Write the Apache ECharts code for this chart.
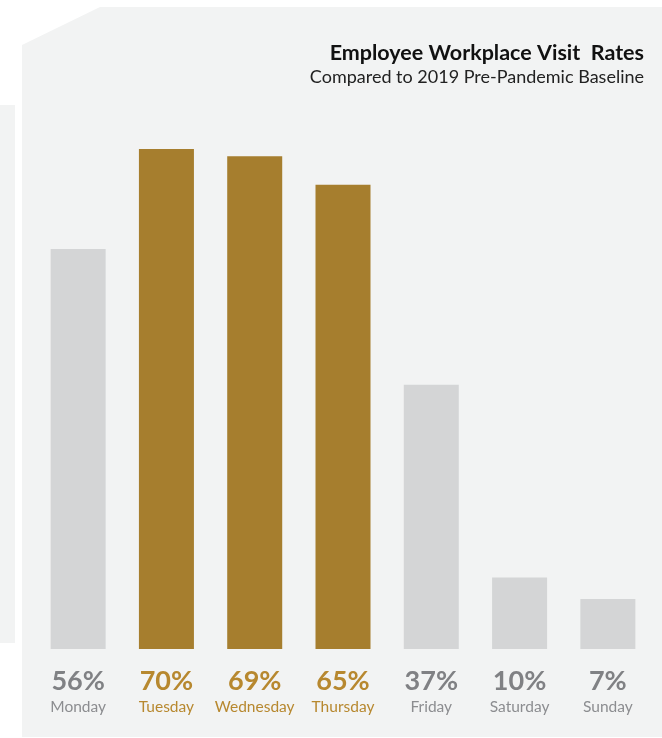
<!DOCTYPE html>
<html lang="en">
	<head>
		<meta charset="utf-8" />
		<title>Employee Workplace Visit Rates</title>
		<style>
			html, body { margin: 0; padding: 0; background: #fff; }
			#chart { width: 662px; height: 738px; }
		</style>
	</head>
	<body>
		<div id="chart"></div>
		<script src="https://cdn.jsdelivr.net/npm/echarts@6/dist/echarts.min.js"></script>
		<script type="text/javascript">
			const days = ['Monday', 'Tuesday', 'Wednesday', 'Thursday', 'Friday', 'Saturday', 'Sunday'];
			const rates = [56, 70, 69, 65, 37, 10, 7];
			// midweek days are highlighted
			const highlight = [false, true, true, true, false, false, false];

			const gold = '#a67e2e';
			const goldText = '#b7882f';
			const grey = '#d4d5d6';
			const greyText = '#808184';
			const panel = '#f2f3f3';

			const chart = echarts.init(document.getElementById('chart'));
			chart.setOption({
				backgroundColor: '#fff',
				textStyle: { fontFamily: 'Lato' },
				graphic: [
					{
						type: 'rect', silent: true, z: -10,
						shape: { x: 0, y: 105, width: 15, height: 538 },
						style: { fill: panel }
					},
					{
						type: 'polygon', silent: true, z: -10,
						shape: { points: [[22, 45], [100, 7], [662, 7], [662, 737], [22, 737]] },
						style: { fill: panel }
					}
				],
				title: {
					text: 'Employee Workplace Visit  Rates',
					subtext: 'Compared to 2019 Pre-Pandemic Baseline',
					left: 639,
					top: 37,
					textAlign: 'right',
					itemGap: 4,
					textStyle: { fontFamily: 'Lato', fontSize: 21.5, fontWeight: 'bold', color: '#111' },
					subtextStyle: { fontFamily: 'Lato', fontSize: 18, color: '#222' }
				},
				grid: { left: 34, right: 10, top: 149, bottom: 89 },
				xAxis: {
					type: 'category',
					data: days,
					axisLine: { show: false },
					axisTick: { show: false },
					axisLabel: {
						margin: 18,
						interval: 0,
						formatter: (name, i) => {
							const k = highlight[i] ? 'o' : 'g';
							return `{v${k}|${rates[i]}%}\n{d${k}|${name}}`;
						},
						rich: {
							vg: { fontFamily: 'Lato', fontSize: 27, fontWeight: 'bold', color: greyText, lineHeight: 29 },
							vo: { fontFamily: 'Lato', fontSize: 27, fontWeight: 'bold', color: goldText, lineHeight: 29 },
							dg: { fontFamily: 'Lato', fontSize: 15.5, color: '#8c8d90', lineHeight: 21 },
							do: { fontFamily: 'Lato', fontSize: 15.5, color: goldText, lineHeight: 21 }
						}
					}
				},
				yAxis: { type: 'value', min: 0, max: 70, show: false },
				series: [{
					type: 'bar',
					barWidth: 55,
					silent: true,
					data: rates.map((v, i) => ({ value: v, itemStyle: { color: highlight[i] ? gold : grey } }))
				}]
			});
		</script>
	</body>
</html>
